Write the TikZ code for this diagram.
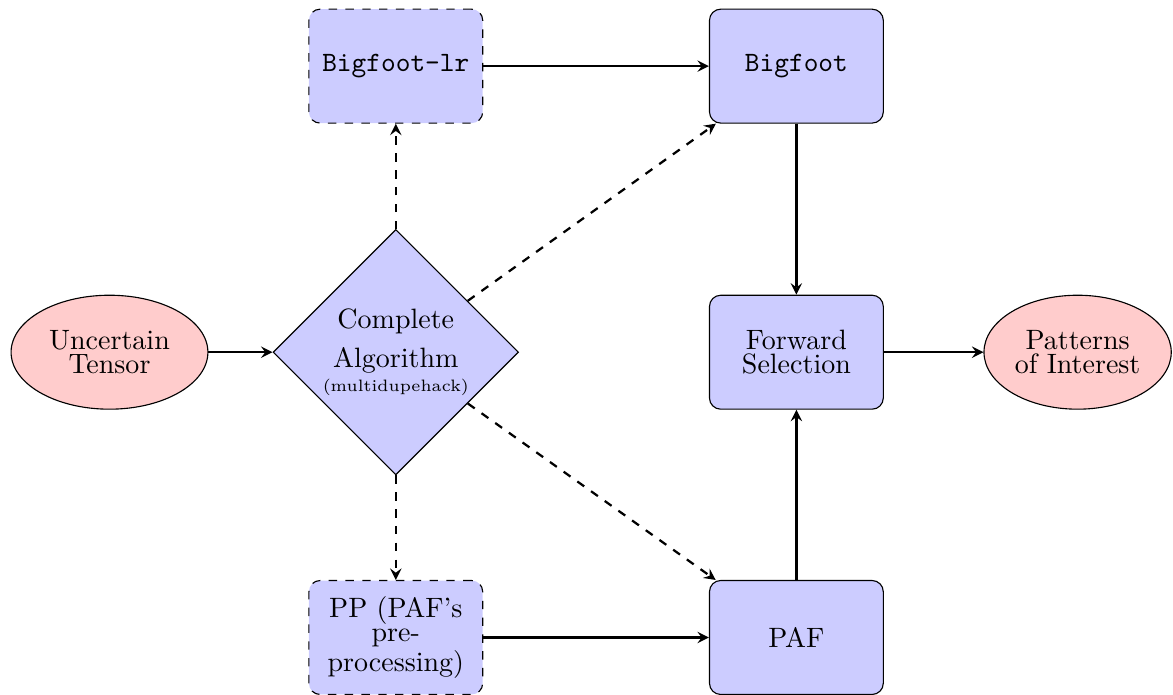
\documentclass[tikz,border=0pt]{standalone}
\usepackage{amsmath}
\usepackage{amssymb}
\usetikzlibrary{shapes.geometric,positioning}
\tikzset{
  BoxStyle/.style = { rectangle, rounded corners, draw, fill = blue!20,
                      text width = 1.9cm, align = center, inner sep = 4pt,
                      minimum height = 1.43cm, font = \fontsize{10}{8.5}\selectfont },
  EdgeStyle/.style = { thick, ->, >=stealth } }

\begin{document}
\begin{tikzpicture}
  \useasboundingbox (0,0) rectangle (14.72,8.72);
  \tikzstyle{IoStyle}=[ellipse, draw, fill = red!20, align = center,
                       minimum width = 2.47cm, minimum height = 1.43cm, inner sep = 1pt,
                       font = \fontsize{10}{8.5}\selectfont]
  \tikzstyle{AlgoStyle}=[diamond, draw, fill = blue!20, align = center, aspect = 1,
                       minimum width = 3.08cm, minimum height = 3.08cm, inner sep = 0pt,
                       font = \fontsize{10}{8.5}\selectfont]
  \tikzstyle{OptStyle}=[BoxStyle, dashed]

  \node[IoStyle] (tensor) at (1.374,4.30) {Uncertain\\Tensor};
  \node[AlgoStyle] (complete) at (4.967,4.30)
       {Complete\\[4pt]Algorithm\\{\fontsize{5.9}{7}\selectfont (multidupehack)}};

  \node[OptStyle] (bigfootlr) at (4.967,7.89) {\texttt{Bigfoot-lr}};
  \node[BoxStyle] (bigfoot) at (9.994,7.89) {\texttt{Bigfoot}};
  \node[BoxStyle] (forward) at (9.994,4.30) {Forward\\Selection};
  \node[IoStyle, minimum width = 2.35cm] (patterns) at (13.523,4.30) {Patterns\\of Interest};

  \node[OptStyle] (pp) at (4.967,0.72) {PP (PAF's pre-processing)};
  \node[BoxStyle] (paf) at (9.994,0.72) {PAF};

  \draw[EdgeStyle] (tensor) -- (complete);
  \draw[EdgeStyle] (bigfootlr) -- (bigfoot);
  \draw[EdgeStyle] (bigfoot) -- (forward);
  \draw[EdgeStyle] (paf) -- (forward);
  \draw[EdgeStyle] (forward) -- (patterns);
  \draw[EdgeStyle] (pp) -- (paf);

  % optional paths
  \draw[EdgeStyle, dashed] (complete) -- (bigfootlr);
  \draw[EdgeStyle, dashed] (complete) -- (bigfoot);
  \draw[EdgeStyle, dashed] (complete) -- (paf);
  \draw[EdgeStyle, dashed] (complete) -- (pp);
\end{tikzpicture}
\end{document}
